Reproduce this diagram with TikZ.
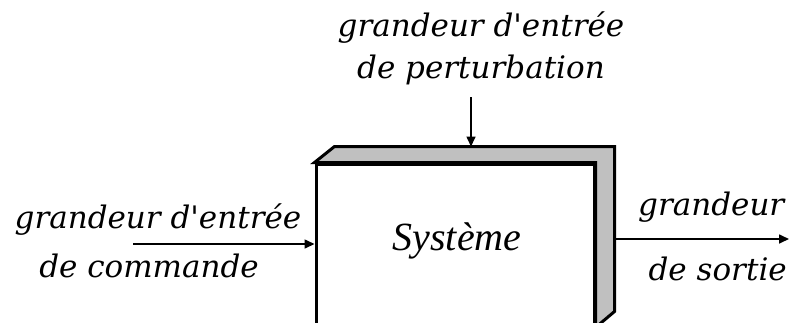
\documentclass[tikz,border=0pt]{standalone}
\usepackage{fontspec}
\usetikzlibrary{arrows.meta,positioning}
\newfontfamily\labelfont{DejaVu Serif}
\newfontfamily\sysfont{Liberation Serif}
\definecolor{backgrey}{RGB}{192,192,192}

\begin{document}
\begin{tikzpicture}[x=1pt,y=-1pt]
	\tikzstyle{lab} = [font=\labelfont\itshape\fontsize{31}{36}\selectfont,inner sep=0pt]
	\tikzstyle{sysbox} = [draw,line width=3pt,fill=white,minimum width=278pt,minimum height=162pt,inner sep=0pt]
	\tikzstyle{sig} = [-{Triangle[length=10pt,width=9pt]},line width=1.6pt]

		\useasboundingbox (0,0) rectangle (789,322);
		\clip (0,0) rectangle (789,322);

		\node[sysbox] (sys) at (455,245){};
		\filldraw[fill=backgrey,line width=3pt,line join=miter] (sys.north west) -- ++(20,-16) -- ([xshift=19pt,yshift=16pt]sys.north east) -- ([xshift=19pt,yshift=16pt]sys.south east) -- (sys.south east) -- (sys.north east) -- cycle;
		\node[anchor=base,font=\sysfont\itshape\fontsize{40}{44}\selectfont] (systxt) at (457,250){Système};

		\coordinate (backtop) at ([yshift=16pt]sys.north);
		\coordinate (backright) at ([xshift=19pt]sys.east);
		\coordinate (cmd) at (133,244);
		\coordinate (pert) at (471,97);
		\coordinate (out) at (789,239);

		\node[lab,anchor=base] (pert1) at (481,36){grandeur d'entrée};
		\node[lab,anchor=base] (pert2) at ([yshift=-42pt]pert1.base){de perturbation};
		\node[lab,anchor=base] (cmd1) at (158,228){grandeur d'entrée};
		\node[lab,anchor=base] (cmd2) at (149,277){de commande};
		\node[lab,anchor=base west] (out1) at (638,215){grandeur};
		\node[lab,anchor=base east] (out2) at (787,280){de sortie};

		\draw[sig] (pert) -- (pert |- backtop);
		\draw[sig] (cmd) -- (cmd -| sys.west);
		\draw[sig] (out -| backright) -- (out);
\end{tikzpicture}
\end{document}
